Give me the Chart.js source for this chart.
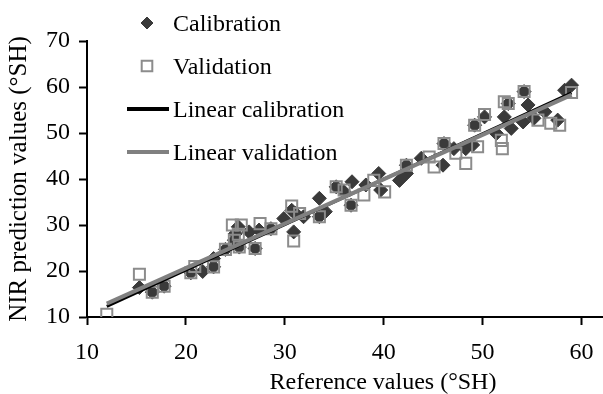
<!DOCTYPE html>
<html>
<head>
<meta charset="utf-8">
<script src="https://cdn.jsdelivr.net/npm/chart.js@4.4.1/dist/chart.umd.min.js"></script>
<style>
  html, body { margin:0; padding:0; background:#fff; overflow:hidden; }
  /* a bit wider than the window so the x axis runs to the right edge */
  #wrap { position:relative; width:613px; height:394px; }
</style>
</head>
<body>
<div id="wrap"><canvas id="ch-nir"></canvas></div>
<script>
// Calibration set (reference vs NIR prediction, °SH)
const calRef = [15.3,16.6,17.8,20.5,21.7,22.8,22.8,24.0,24.9,25.0,25.4,25.3,26.4,27.0,27.4,28.6,29.9,30.7,30.9,31.1,31.9,33.5,33.5,34.1,35.2,36.0,36.7,36.8,38.2,39.5,39.7,41.6,42.3,42.3,43.8,46.0,46.1,47.1,48.3,49.0,49.2,50.2,51.4,52.2,52.6,52.9,54.1,54.2,54.6,55.2,56.3,57.6,58.3,59.0];
const calNir = [16.4,15.4,16.7,19.6,19.9,20.9,22.7,24.7,26.7,28.1,25.2,29.6,28.5,24.9,28.9,29.2,31.4,33.2,28.5,32.5,31.8,35.8,31.8,32.9,38.3,37.2,34.3,39.4,38.7,41.2,37.6,39.7,43.0,41.2,44.5,43.0,47.7,46.6,46.6,47.4,51.7,53.5,49.9,53.5,56.4,51.0,52.4,59.0,56.1,53.2,54.6,52.8,59.3,60.4];

// Validation set
const valRef = [12.0,15.3,16.6,17.8,20.5,20.9,22.8,24.0,24.7,25.6,24.9,25.4,25.3,27.0,27.5,28.6,30.7,30.9,31.5,33.5,35.2,36.0,36.7,38.0,39.0,40.1,42.3,44.6,45.1,46.1,47.3,48.3,49.5,49.2,50.2,51.9,52.0,52.2,52.6,54.2,55.6,56.9,57.8,59.0];
const valNir = [10.6,19.3,15.4,16.7,19.6,21.0,20.9,24.7,30.0,30.0,26.7,25.2,28.0,24.9,30.3,29.2,34.1,26.5,32.5,31.8,38.3,37.6,34.3,36.5,39.7,37.2,43.0,44.8,42.6,47.7,45.6,43.4,47.0,51.7,54.0,48.4,46.6,56.8,56.4,59.0,52.8,52.1,51.7,58.8];

// Fitted lines (end points)
const calLineRef = [12, 59];
const calLineNir = [12.3, 58.7];
const valLineRef = [12, 59];
const valLineNir = [12.9, 58.3];

// Axis ticks
const xTicks = [10, 20, 30, 40, 50, 60];
const yTicks = [10, 20, 30, 40, 50, 60, 70];

const FONT = 'Liberation Serif, Times New Roman, serif';
const FS = 24;
const pts = (xs, ys) => xs.map((x, i) => ({ x, y: ys[i] }));

// Legend + x title drawn on the canvas
const extras = {
  id: 'extras',
  afterDraw(chart) {
    const ctx = chart.ctx;
    ctx.save();
    ctx.font = `${FS}px ${FONT}`;
    ctx.textBaseline = 'middle';
    ctx.textAlign = 'left';
    const rows = [23, 66, 109, 152];
    chart.data.datasets.forEach((ds, i) => {
      const y = rows[i];
      if (ds.type === 'line') {
        ctx.strokeStyle = ds.borderColor;
        ctx.lineWidth = 4;
        ctx.beginPath(); ctx.moveTo(127, y); ctx.lineTo(169, y); ctx.stroke();
      } else {
        ctx.fillStyle = ds.backgroundColor;
        ctx.strokeStyle = ds.borderColor;
        ctx.lineWidth = ds.borderWidth;
        Chart.helpers.drawPoint(ctx, {
          pointStyle: ds.pointStyle, radius: ds.legendRadius, borderWidth: ds.borderWidth
        }, 147, y);
      }
      ctx.fillStyle = '#000';
      ctx.fillText(ds.label, 173, y + 2);
    });
    ctx.textAlign = 'center';
    ctx.fillText('Reference values (°SH)', 383, 383);
    ctx.restore();
  }
};

const setTicks = list => scale => {
  scale.ticks = list.map(v => ({ value: v }));
};

new Chart(document.getElementById('ch-nir'), {
  type: 'scatter',
  data: {
    datasets: [
      {
        label: 'Calibration',
        data: pts(calRef, calNir),
        pointStyle: 'rectRot',
        pointRadius: 7,
        legendRadius: 6,
        backgroundColor: '#3a3a3a',
        borderColor: '#3a3a3a',
        borderWidth: 1,
        order: 4
      },
      {
        label: 'Validation',
        data: pts(valRef, valNir),
        pointStyle: 'rect',
        pointRadius: 7.8,
        legendRadius: 7.5,
        backgroundColor: 'transparent',
        borderColor: '#8c8c8c',
        borderWidth: 2,
        order: 3
      },
      {
        type: 'line',
        label: 'Linear calibration',
        data: pts(calLineRef, calLineNir),
        borderColor: '#000',
        borderWidth: 3,
        pointRadius: 0,
        order: 2
      },
      {
        type: 'line',
        label: 'Linear validation',
        data: pts(valLineRef, valLineNir),
        borderColor: '#808080',
        borderWidth: 4,
        pointRadius: 0,
        order: 1
      }
    ]
  },
  options: {
    responsive: true,
    maintainAspectRatio: false,
    animation: false,
    layout: { padding: { top: 41, right: 0, left: 0, bottom: 0 } },
    plugins: { legend: { display: false }, tooltip: { enabled: false } },
    scales: {
      x: {
        type: 'linear',
        min: 10,
        max: 62.2,
        afterBuildTicks: setTicks(xTicks),
        afterFit: s => { s.height = 77; },
        ticks: { color: '#000', padding: 13, maxRotation: 0, autoSkip: false, font: { family: FONT, size: FS } },
        grid: { drawOnChartArea: false, tickLength: 8, tickColor: '#000', tickWidth: 2 },
        border: { color: '#000', width: 2 }
      },
      y: {
        min: 10,
        max: 70,
        afterBuildTicks: setTicks(yTicks),
        afterFit: s => { s.width = 87; },
        ticks: { color: '#000', padding: 9, autoSkip: false, font: { family: FONT, size: FS } },
        grid: { drawOnChartArea: false, tickLength: 8, tickColor: '#000', tickWidth: 2 },
        border: { color: '#000', width: 2 },
        title: {
          display: true,
          text: 'NIR prediction values (°SH)',
          color: '#000',
          padding: { top: 4, bottom: 0 },
          font: { family: FONT, size: 25, lineHeight: 1.2 }
        }
      }
    }
  },
  plugins: [extras]
});
</script>
</body>
</html>
